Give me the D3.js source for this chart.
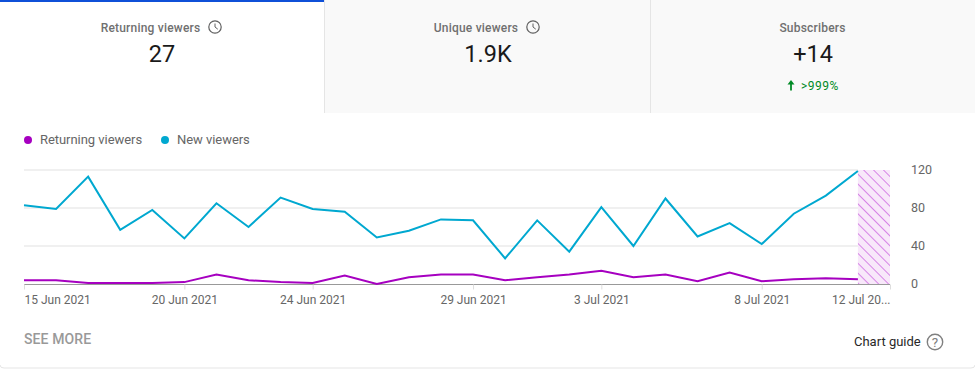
<!DOCTYPE html>
<html>
<head>
<meta charset="utf-8">
<script src="https://cdn.jsdelivr.net/npm/d3@7/dist/d3.min.js"></script>
<style>
html,body{margin:0;padding:0;background:#fff;overflow:hidden}
svg{display:block}
text{font-family:Roboto,sans-serif}
</style>
</head>
<body>
<svg id="c" width="975" height="369"></svg>
<script>
const dates = ["15 Jun","16 Jun","17 Jun","18 Jun","19 Jun","20 Jun","21 Jun","22 Jun","23 Jun","24 Jun","25 Jun","26 Jun","27 Jun","28 Jun","29 Jun","30 Jun","1 Jul","2 Jul","3 Jul","4 Jul","5 Jul","6 Jul","7 Jul","8 Jul","9 Jul","10 Jul","11 Jul","12 Jul"];
const newViewers = [83,79,113,57,78,48,85,60,91,79,76,49,56,68,67,27,67,34,81,40,90,50,64,42,74,93,119];
const returningViewers = [4,4,1,1,1,2,10,4,2,1,9,0,7,10,10,4,7,10,14,7,10,3,12,3,5,6,5];
const tickDates = ["15 Jun","20 Jun","24 Jun","29 Jun","3 Jul","8 Jul","12 Jul"];
const tickLabels = ["15 Jun 2021","20 Jun 2021","24 Jun 2021","29 Jun 2021","3 Jul 2021","8 Jul 2021","12 Jul 20..."];
const yTicks = [0,40,80,120];
const cardTitles = ["Returning viewers","Unique viewers","Subscribers"];
const cardValues = ["27","1.9K","+14"];
const seriesNames = ["Returning viewers","New viewers"];

const PURPLE="#a600c0", BLUE="#00a8d0";
const svg=d3.select("#c");
const x=d3.scalePoint().domain(dates).range([24,890]);
const y=d3.scaleLinear().domain([0,120]).range([284,170]);

// cards
svg.append("rect").attr("x",324).attr("y",0).attr("width",651).attr("height",113).attr("fill","#f9f9f9");
svg.append("rect").attr("x",0).attr("y",0).attr("width",324).attr("height",2).attr("fill","#0f50d8");
[324,650].forEach(p=>svg.append("rect").attr("x",p).attr("y",0).attr("width",1).attr("height",113).attr("fill","#e5e5e5"));

const cx=[150.5,476,812.5], vx=[162,488,813];
cardTitles.forEach((t,i)=>{
  svg.append("text").attr("x",cx[i]).attr("y",31.5).attr("text-anchor","middle")
    .attr("font-size",12).attr("font-weight",500).attr("letter-spacing",0.2).attr("fill","#707070").text(t);
  svg.append("text").attr("x",vx[i]).attr("y",62).attr("text-anchor","middle")
    .attr("font-size",23.5).attr("fill","#1a1a1a").text(cardValues[i]);
});
// clock icons
[[215,27],[533,27]].forEach(([a,b])=>{
  const g=svg.append("g").attr("transform",`translate(${a},${b})`).attr("fill","none").attr("stroke","#606060");
  g.append("circle").attr("r",6.2).attr("stroke-width",1.2);
  g.append("path").attr("d","M0,-3.5V0L2.8,2.2").attr("stroke-width",1);
});
// delta
svg.append("path").attr("d","M791,90.5V83").attr("fill","none").attr("stroke","#008a25").attr("stroke-width",1.8);
svg.append("path").attr("d","M787.5,84.5L791,80L794.5,84.5Z").attr("fill","#008a25");
svg.append("text").attr("x",801).attr("y",90).attr("font-size",12).attr("letter-spacing",0.5).attr("fill","#008a25").text(">999%");

// legend
const lx=[28,165], ltx=[40,177];
seriesNames.forEach((t,i)=>{
  svg.append("circle").attr("cx",lx[i]).attr("cy",140).attr("r",4).attr("fill",i?BLUE:PURPLE);
  svg.append("text").attr("x",ltx[i]).attr("y",144).attr("font-size",13).attr("letter-spacing",-0.05).attr("fill","#666").text(t);
});

// hatch
const defs=svg.append("defs");
const pat=defs.append("pattern").attr("id","h").attr("patternUnits","userSpaceOnUse").attr("width",7).attr("height",7)
  .attr("patternTransform","rotate(-45)");
pat.append("rect").attr("width",7).attr("height",7).attr("fill","#f8e8fa");
pat.append("rect").attr("x",0).attr("width",1).attr("height",7).attr("fill","#d684e6");

// grid
yTicks.filter(d=>d>0).forEach(d=>{
  svg.append("line").attr("x1",24).attr("x2",x("11 Jul")).attr("y1",y(d)).attr("y2",y(d)).attr("stroke","#f0f0f0").attr("stroke-width",2);
});
svg.append("rect").attr("x",x("11 Jul")).attr("y",y(120)).attr("width",x("12 Jul")-x("11 Jul")).attr("height",y(0)-y(120)).attr("fill","url(#h)");

// y axis
const ya=svg.append("g").attr("transform","translate(890,0)").call(d3.axisRight(y).tickValues(yTicks).tickSize(0).tickPadding(21));
ya.select(".domain").remove();
ya.selectAll("text").attr("font-size",12.5).attr("dy","0.3em").attr("fill","#666").style("font-family","Roboto,sans-serif");

// x axis
const xa=svg.append("g").attr("transform",`translate(0,${y(0)+0.5})`)
  .call(d3.axisBottom(x).tickValues(tickDates).tickSize(5).tickPadding(6).tickFormat((d,i)=>tickLabels[i]));
xa.select(".domain").attr("d",`M24,0H890`).attr("stroke","#999").attr("stroke-width",1);
xa.selectAll(".tick line").attr("stroke","#ddd");
xa.selectAll("text").attr("font-size",12).attr("fill","#666").style("font-family","Roboto,sans-serif")
  .attr("text-anchor",(d,i)=>i===0?"start":i===tickDates.length-1?"end":"middle");

// lines
const line=d3.line().x((d,i)=>x(dates[i])).y(d=>y(d));
svg.append("path").datum(newViewers).attr("d",line).attr("fill","none").attr("stroke",BLUE).attr("stroke-width",2);
svg.append("path").datum(returningViewers).attr("d",line).attr("fill","none").attr("stroke",PURPLE).attr("stroke-width",2);

// footer
svg.append("text").attr("x",24).attr("y",344).attr("font-size",14).attr("font-weight",500).attr("letter-spacing",0.1).attr("fill","#999").text("SEE MORE");
svg.append("text").attr("x",854).attr("y",346).attr("font-size",13).attr("fill","#282828").text("Chart guide");
const q=svg.append("g").attr("transform","translate(935,342)");
q.append("circle").attr("r",7.7).attr("fill","none").attr("stroke","#808080").attr("stroke-width",1.4);
q.append("text").attr("y",5).attr("text-anchor","middle").attr("font-size",13.5).attr("fill","#808080").text("?");
// card bottom border
svg.append("path").attr("d","M0,365Q0,368 4,368H971Q975,368 975,365").attr("fill","none").attr("stroke","#e5e5e5").attr("stroke-width",1);
</script>
</body>
</html>
